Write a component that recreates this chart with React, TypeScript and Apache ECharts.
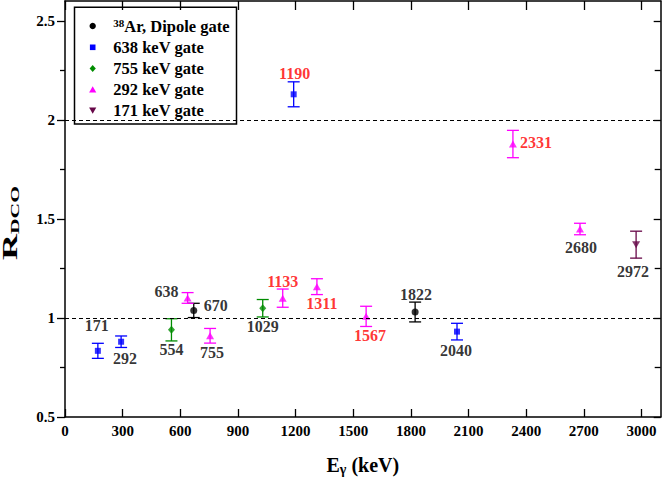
import React, { useEffect, useRef } from "react";
import * as echarts from "echarts";

const FONT = '"Liberation Serif", "Times New Roman", Times, serif';

// ---- data ----
const seriesNames = ["38Ar, Dipole gate", "638 keV gate", "755 keV gate", "292 keV gate", "171 keV gate"];
const seriesColors = ["#000000", "#0000ff", "#008c00", "#ff00ff", "#670748"];

const dipoleE = [670, 1822];
const dipoleR = [1.038, 1.03];
const dipoleErr = [0.036, 0.05];

const g638E = [171, 292, 1190, 2040];
const g638R = [0.834, 0.88, 2.129, 0.931];
const g638Err = [0.038, 0.029, 0.063, 0.042];

const g755E = [554, 1029];
const g755R = [0.94, 1.049];
const g755Err = [0.056, 0.044];

const g292E = [638, 755, 1133, 1311, 1567, 2331, 2680];
const g292R = [1.101, 0.91, 1.1, 1.158, 1.008, 1.878, 1.449];
const g292Err = [0.027, 0.037, 0.046, 0.04, 0.051, 0.069, 0.029];

const g171E = [2972];
const g171R = [1.37];
const g171Err = [0.068];

const redLabels = [1190, 1133, 1311, 1567, 2331];
const refLines = [1, 2];

const xTicks = [0, 300, 600, 900, 1200, 1500, 1800, 2100, 2400, 2700, 3000];
const yTicks = [0.5, 1, 1.5, 2, 2.5];

// ---- layout (label offsets from the marker centre, px) ----
const labelOffset: Record<number, [number, number]> = {
  171: [-1, -25],
  292: [4, 17],
  554: [0, 20],
  638: [-21, -6],
  670: [22, -5],
  755: [2, 17],
  1029: [0, 18],
  1133: [0, -17],
  1311: [5, 17],
  1567: [4, 19],
  1822: [1, -18],
  2040: [-1, 19],
  1190: [1, -21],
  2331: [23, -2],
  2680: [1, 18],
  2972: [-3, 27],
};

const SYM = {
  circle: "path://M0,5A5,5,0,1,1,10,5A5,5,0,1,1,0,5Z",
  square: "path://M0,0L10,0L10,10L0,10Z",
  diamond: "path://M5,0L10,6L5,12L0,6Z",
  up: "path://M5,0L10,9L0,9Z",
  down: "path://M0,0L10,0L5,9Z",
};

// legend box geometry
const LG = { x: 74.5, y: 7.3, w: 162, h: 116.7, iconX: 92.7, textX: 113.3, rows: [26, 47.3, 68.5, 89.5, 110.5] };

export default function App() {
  const ref = useRef<HTMLDivElement>(null);

  useEffect(() => {
    if (!ref.current) return;
    const chart = echarts.init(ref.current, undefined, { renderer: "svg" });

    const groups = [
      { E: dipoleE, R: dipoleR, Err: dipoleErr, symbol: SYM.circle, size: 7 },
      { E: g638E, R: g638R, Err: g638Err, symbol: SYM.square, size: 6 },
      { E: g755E, R: g755R, Err: g755Err, symbol: SYM.diamond, size: [7, 8] },
      { E: g292E, R: g292R, Err: g292Err, symbol: SYM.up, size: [8, 7] },
      { E: g171E, R: g171R, Err: g171Err, symbol: SYM.down, size: [8, 7] },
    ];

    const errRender = (color: string) => (params: any, api: any) => {
      const x = api.value(0);
      const y = api.value(1);
      const e = api.value(2);
      const t = api.coord([x, y + e]);
      const b = api.coord([x, y - e]);
      const hw = 6;
      const st = { stroke: color, lineWidth: 1.3 };
      return {
        type: "group",
        children: [
          { type: "line", shape: { x1: t[0], y1: t[1], x2: b[0], y2: b[1] }, style: st },
          { type: "line", shape: { x1: t[0] - hw, y1: t[1], x2: t[0] + hw, y2: t[1] }, style: st },
          { type: "line", shape: { x1: b[0] - hw, y1: b[1], x2: b[0] + hw, y2: b[1] }, style: st },
        ],
      };
    };

    const series: any[] = [];
    groups.forEach((g, gi) => {
      const color = seriesColors[gi];
      series.push({
        name: "err" + gi,
        type: "custom",
        z: 1,
        renderItem: errRender(color),
        encode: { x: 0, y: 1 },
        data: g.E.map((e, i) => [e, g.R[i], g.Err[i]]),
      });
      series.push({
        name: seriesNames[gi],
        type: "scatter",
        z: 3,
        symbol: g.symbol,
        symbolSize: g.size,
        itemStyle: { color },
        label: {
          show: true,
          position: "inside",
          fontFamily: FONT,
          fontWeight: "bold",
          fontSize: 16,
          formatter: (p: any) => String(p.value[0]),
        },
        data: g.E.map((e, i) => ({
          value: [e, g.R[i]],
          label: {
            offset: labelOffset[e] || [0, -15],
            color: redLabels.includes(e) ? "#ff0000" : "#000000",
          },
        })),
        markLine:
          gi === 0
            ? {
                silent: true,
                symbol: ["none", "none"],
                label: { show: false },
                lineStyle: { color: "#000", width: 1, type: [4, 3] },
                data: refLines.map((v) => ({ yAxis: v })),
              }
            : undefined,
      });
    });

    // legend drawn with graphic elements (box, symbols, texts)
    const cx = LG.iconX;
    const r = LG.rows;
    const legendIcons: any[] = [
      { type: "circle", shape: { cx, cy: r[0], r: 3.2 }, style: { fill: seriesColors[0] } },
      { type: "rect", shape: { x: cx - 2.8, y: r[1] - 2.8, width: 5.6, height: 5.6 }, style: { fill: seriesColors[1] } },
      { type: "polygon", shape: { points: [[cx, r[2] - 3.6], [cx + 3.1, r[2]], [cx, r[2] + 3.6], [cx - 3.1, r[2]]] }, style: { fill: seriesColors[2] } },
      { type: "polygon", shape: { points: [[cx, r[3] - 3.3], [cx + 3.6, r[3] + 3], [cx - 3.6, r[3] + 3]] }, style: { fill: seriesColors[3] } },
      { type: "polygon", shape: { points: [[cx - 3.6, r[4] - 3], [cx + 3.6, r[4] - 3], [cx, r[4] + 3.3]] }, style: { fill: seriesColors[4] } },
    ];
    const legendTexts: any[] = seriesNames.map((name, i) => ({
      type: "text",
      x: LG.textX,
      y: r[i],
      style: {
        text: i === 0 ? "{sup|38}{b|Ar, Dipole gate}" : "{b|" + name + "}",
        align: "left",
        verticalAlign: "middle",
        rich: {
          sup: { fontFamily: FONT, fontWeight: "bold", fontSize: 11, lineHeight: 4, verticalAlign: "top", fill: "#000", color: "#000" },
          b: { fontFamily: FONT, fontWeight: "bold", fontSize: 16.5, lineHeight: 17, fill: "#000", color: "#000" },
        },
      },
    }));

    const axisLine = { show: true, onZero: false, lineStyle: { color: "#000", width: 1.5 } };
    const tickStyle = { color: "#000", width: 1.3 };
    const labelStyle = { fontFamily: FONT, fontWeight: "bold", fontSize: 15, color: "#000" };

    chart.setOption({
      animation: false,
      backgroundColor: "#fff",
      grid: { left: 65, right: 2.3, top: 1, bottom: 66, containLabel: false, outerBoundsMode: "none" },
      graphic: [
        {
          type: "group",
          z: 100,
          children: [
            {
              type: "rect",
              shape: { x: LG.x, y: LG.y, width: LG.w, height: LG.h },
              style: { fill: "#fff", stroke: "#000", lineWidth: 1.5 },
            },
            ...legendIcons,
            ...legendTexts,
          ],
        },
        {
          type: "text",
          x: 10,
          y: 223,
          rotation: Math.PI / 2,
          scaleX: 1.8,
          style: {
            text: "{r|R}{s|DCO}",
            align: "center",
            verticalAlign: "middle",
            rich: {
              r: { fontFamily: FONT, fontWeight: "bold", fontSize: 20, lineHeight: 22, fill: "#000", color: "#000" },
              s: { fontFamily: FONT, fontWeight: "bold", fontSize: 12, lineHeight: 10, verticalAlign: "bottom", fill: "#000", color: "#000" },
            },
          },
        },
      ],
      xAxis: [
        {
          type: "value",
          min: 0,
          max: 3100,
          position: "bottom",
          axisLine,
          axisTick: { show: true, inside: true, length: 8, customValues: xTicks, lineStyle: tickStyle },
          axisLabel: { ...labelStyle, margin: 6, customValues: xTicks, formatter: (v: number) => String(v) },
          splitLine: { show: false },
          name: "{e|E}{g|γ}{e| (keV)}",
          nameLocation: "middle",
          nameGap: 37,
          nameTextStyle: {
            rich: {
              e: { fontFamily: FONT, fontWeight: "bold", fontSize: 20, lineHeight: 22, color: "#000" },
              g: { fontFamily: FONT, fontWeight: "bold", fontSize: 14, lineHeight: 6, verticalAlign: "bottom", color: "#000" },
            },
          },
        },
        {
          type: "value",
          min: 0,
          max: 3100,
          position: "top",
          axisLine,
          axisTick: { show: true, inside: true, length: 9, customValues: xTicks, lineStyle: tickStyle },
          axisLabel: { show: false },
          splitLine: { show: false },
        },
      ],
      yAxis: [
        {
          type: "value",
          min: 0.5,
          max: 2.6,
          interval: 0.5,
          position: "left",
          axisLine,
          axisTick: { show: true, inside: false, length: 8, customValues: yTicks, lineStyle: tickStyle },
          minorTick: { show: true, splitNumber: 2, length: 5, lineStyle: tickStyle },
          axisLabel: { ...labelStyle, margin: 10, customValues: yTicks, formatter: (v: number) => String(v) },
          splitLine: { show: false },
          minorSplitLine: { show: false },
        },
        {
          type: "value",
          min: 0.5,
          max: 2.6,
          interval: 0.5,
          position: "right",
          axisLine,
          axisTick: { show: true, inside: true, length: 7, customValues: yTicks, lineStyle: tickStyle },
          minorTick: { show: true, splitNumber: 2, length: 6, lineStyle: tickStyle },
          axisLabel: { show: false },
          splitLine: { show: false },
          minorSplitLine: { show: false },
        },
      ],
      series,
    });

    return () => chart.dispose();
  }, []);

  return (
    <div
      ref={ref}
      style={{ position: "fixed", left: 0, top: 0, width: 663, height: 483, background: "#fff" }}
    />
  );
}
